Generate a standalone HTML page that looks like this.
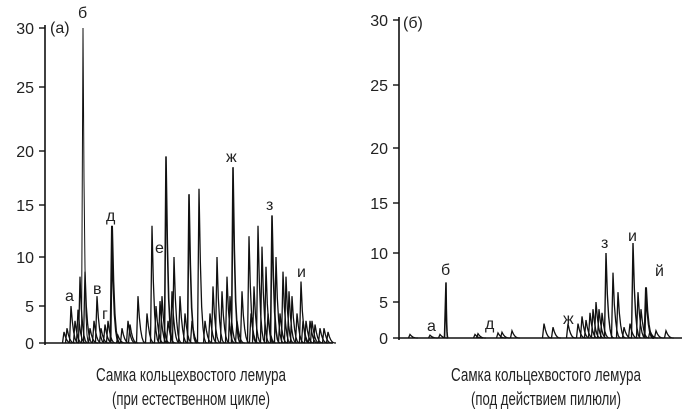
<!DOCTYPE html>
<html><head><meta charset="utf-8"><style>
html,body{margin:0;padding:0;background:#fff;}
svg{display:block;}
text{font-family:"Liberation Sans",sans-serif;fill:#222;}
</style></head><body>
<svg id="s" width="687" height="414" viewBox="0 0 687 414" xmlns="http://www.w3.org/2000/svg">
<g id="g" fill="none" stroke="#111"></g>
<g font-size="16" text-anchor="end">
<text x="34" y="34">30</text><text x="34" y="93">25</text><text x="34" y="157">20</text><text x="34" y="211">15</text><text x="34" y="263">10</text><text x="34" y="312">5</text><text x="34" y="349">0</text>
<text x="388" y="26">30</text><text x="388" y="91">25</text><text x="388" y="154">20</text><text x="388" y="209">15</text><text x="388" y="259">10</text><text x="388" y="308">5</text><text x="388" y="344">0</text>
</g>
<g font-size="16">
<text x="50" y="33">(a)</text><text x="403" y="28">(б)</text>
<text x="65" y="301">а</text><text x="78" y="18">б</text><text x="93" y="294">в</text><text x="102" y="319">г</text><text x="106" y="221">д</text><text x="155" y="253">е</text><text x="226" y="162">ж</text><text x="266" y="210">з</text><text x="297" y="277">и</text>
<text x="427" y="331">а</text><text x="441" y="275">б</text><text x="485" y="329">д</text><text x="563" y="324">ж</text><text x="601" y="248">з</text><text x="628" y="241">и</text><text x="655" y="276">й</text>
</g>
<g font-size="18" text-anchor="middle" style="fill:#333">
<text x="191" y="381" textLength="190" lengthAdjust="spacingAndGlyphs">Самка кольцехвостого лемура</text>
<text x="191" y="405" textLength="158" lengthAdjust="spacingAndGlyphs">(при естественном цикле)</text>
<text x="546" y="381" textLength="190" lengthAdjust="spacingAndGlyphs">Самка кольцехвостого лемура</text>
<text x="546" y="405" textLength="150" lengthAdjust="spacingAndGlyphs">(под действием пилюли)</text>
</g>
</svg>
<script>
var g=document.getElementById('g');
function P(d,w){var p=document.createElementNS('http://www.w3.org/2000/svg','path');p.setAttribute('d',d);p.setAttribute('stroke-width',w||1);g.appendChild(p);}
function mk(ax,lab,x0,x1,peaks){
 function Y(v){for(var i=0;i<lab.length-1;i++){if(v<=lab[i+1][0]){var a=lab[i],b=lab[i+1];return a[1]+(b[1]-a[1])*(v-a[0])/(b[0]-a[0]);}}return lab[lab.length-1][1];}
 P('M'+ax+' '+(Y(0)+2)+'V'+(Y(30)-3),1.6);
 P('M'+ax+' '+Y(0)+'H'+x1,1.6);
 lab.forEach(function(l){P('M'+(ax-6)+' '+l[1]+'H'+ax,1.4);});
 peaks.forEach(function(p){var x=p[0],v=p[1],w=p[2]||1.3,dec=p[3]||8,y0=Y(0);
  var d='M'+(x-1.5)+' '+y0+'L'+x+' '+Y(v);
  for(var k=1;k<=6;k++){var t=k/6;d+='L'+(x+dec*t)+' '+Y(v*Math.pow(1-t,3));}
  P(d,w);});
}
var L=[[0,343],[5,306],[10,257],[15,205],[20,151],[25,87],[30,28]];
mk(45,L,45,333,[[64,1.5],[67,2],[71,5],[75,3],[78,4.5],[80,8],[83,30,1,6],[85,8.5],[90,2],[94,3],[97,6],[101,2],[105,2.5],[108,3],[112,13,2],[118,1],[122,2],[128,3],[130,2.5],[138,6],[147,4],[152,13],[156,5],[160,5.5],[162,6],[166,19.5,1.6],[168,3],[172,6.5],[174,10],[180,6],[185,4],[189,16,1.6],[192,3],[199,16.5],[205,3],[210,4],[213,7],[217,10],[222,6.5],[227,8],[230,6],[233,18.5,1.6],[237,3],[242,6.5],[249,12],[251,4],[254,7],[258,13],[262,11],[266,9],[268,4],[272,14,1.6],[276,10],[280,4],[283,8.5],[286,8],[289,6.5],[292,6],[297,4],[301,7.5],[303,3],[306,3],[310,3],[312,3],[315,2.5],[320,2],[324,2],[328,1.5]]);
var R=[[0,338],[5,302],[10,253],[15,203],[20,148],[25,85],[30,20]];
mk(399,R,399,682,[[410,0.5],[430,0.4],[440,0.5],[446,7,1.6,2],[475,0.5],[478,0.6],[498,0.7],[502,0.8],[512,1],[544,2],[553,1.5],[568,2],[578,2],[582,3],[586,2.5],[590,3.5],[593,4],[596,5],[599,4],[602,3.5],[606,10,1.4],[613,8],[618,6],[624,1.5],[630,2],[633,11,1.4],[638,6],[641,4],[646,6.5,2],[650,1],[656,1],[666,1]]);
</script>
</body></html>
